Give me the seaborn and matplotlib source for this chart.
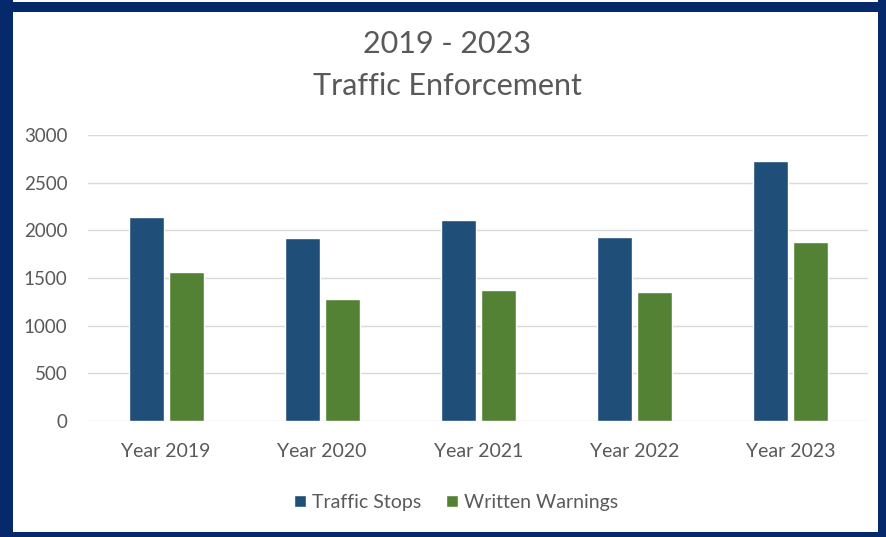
import matplotlib
matplotlib.use("Agg")
from matplotlib import pyplot as plt
from matplotlib.patches import Rectangle
import pandas as pd
import seaborn as sns

# chart data
years = ["Year 2019", "Year 2020", "Year 2021", "Year 2022", "Year 2023"]
traffic_stops = [2140, 1915, 2107, 1929, 2724]
written_warnings = [1560, 1278, 1376, 1348, 1876]
series = ["Traffic Stops", "Written Warnings"]
colors = ["#1f4e79", "#548235"]

# long form for seaborn
df = pd.DataFrame({
    "Year": years * 2,
    "Count": traffic_stops + written_warnings,
    "Series": [series[0]] * len(years) + [series[1]] * len(years),
})

sns.set_style("white")
plt.rcParams["font.family"] = ["Lato", "DejaVu Sans"]
text_grey = "#595959"

fig = plt.figure(figsize=(8.86, 5.37), dpi=100)
ax = fig.add_axes([0.0995, 0.216, 0.8805, 0.5326])

sns.barplot(data=df, x="Year", y="Count", hue="Series", palette=colors,
            width=0.51, gap=0.12, ax=ax, saturation=1, legend=True)

ax.set_ylim(0, 3000)
ax.set_yticks(range(0, 3001, 500))
ax.set_xlabel("")
ax.set_ylabel("")
ax.grid(axis="y", color="#d9d9d9", linewidth=1)
ax.set_axisbelow(True)
sns.despine(ax=ax, left=True, bottom=True)
ax.tick_params(axis="y", length=0, pad=15, labelsize=13.5, labelcolor=text_grey)
ax.tick_params(axis="x", length=0, pad=16, labelsize=14, labelcolor=text_grey)

# legend under the plot
handles, labels = ax.get_legend_handles_labels()
ax.get_legend().remove()
fig.legend(handles, labels, loc="center", bbox_to_anchor=(0.515, 0.064), ncol=2,
           frameon=False, fontsize=14, labelcolor=text_grey, handlelength=0.6,
           handleheight=0.6, handletextpad=0.3, columnspacing=1.3)

# two line title
fig.text(0.505, 0.918, "2019 - 2023", ha="center", va="center", fontsize=22, color=text_grey)
fig.text(0.505, 0.840, "Traffic Enforcement", ha="center", va="center", fontsize=22, color=text_grey)

# navy frame around the picture
navy = "#05296b"
W, H = 886, 537
for (x0, y0, w, h) in [(0, 0, 13, H), (W - 8, 0, 8, H), (0, H - 12, W, 10), (0, 0, W, 5)]:
    fig.patches.append(Rectangle((x0 / W, y0 / H), w / W, h / H, transform=fig.transFigure,
                                 facecolor=navy, edgecolor="none", zorder=10))

fig.savefig("out.png", dpi=100)
